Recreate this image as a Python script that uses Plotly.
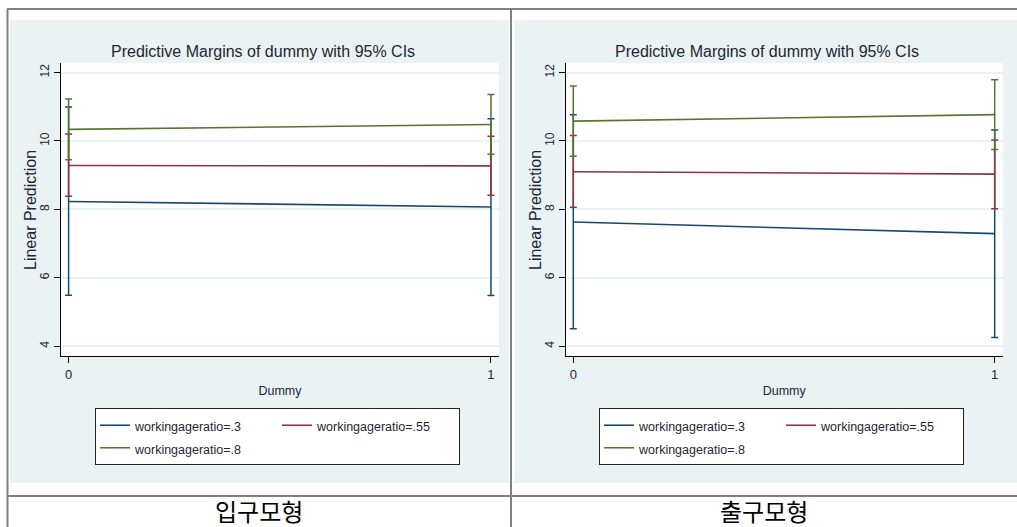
import plotly.graph_objects as go

# ---- data ----
dummy = [0, 1]
series_names = ["workingageratio=.3", "workingageratio=.55", "workingageratio=.8"]

# Left panel (입구모형)
left_est = [[8.23, 8.07], [9.28, 9.27], [10.34, 10.48]]
left_lo = [[5.49, 5.48], [8.38, 8.41], [9.45, 9.61]]
left_hi = [[10.99, 10.65], [10.20, 10.14], [11.23, 11.36]]

# Right panel (출구모형)
right_est = [[7.63, 7.29], [9.10, 9.03], [10.58, 10.77]]
right_lo = [[4.51, 4.25], [8.06, 8.02], [9.55, 9.75]]
right_hi = [[10.77, 10.32], [10.16, 10.03], [11.61, 11.79]]

panel_labels = ["입구모형", "출구모형"]
chart_title = "Predictive Margins of dummy with 95% CIs"
y_title = "Linear Prediction"
x_title = "Dummy"
y_ticks = [4, 6, 8, 10, 12]
x_ticks = [0, 1]

# ---- styles ----
colors = ["#1a476f", "#90353b", "#55752f"]
groups = ["a", "b", "a"]
W, H = 1017, 527
FONT = "Liberation Sans, Arial, sans-serif"
TXT = "#1f2533"
PANEL_BG = "#eaf2f3"


def px_x(p):
    return p / W


def px_y(p):
    return 1 - p / H


fig = go.Figure()

panels = [
    dict(est=left_est, lo=left_lo, hi=left_hi, xa="x", ya="y", legend="legend"),
    dict(est=right_est, lo=right_lo, hi=right_hi, xa="x2", ya="y2", legend="legend2"),
]

for pnl in panels:
    for i, name in enumerate(series_names):
        est = pnl["est"][i]
        up = [h - e for h, e in zip(pnl["hi"][i], est)]
        dn = [e - l for e, l in zip(est, pnl["lo"][i])]
        fig.add_trace(go.Scatter(
            x=dummy, y=est, mode="lines",
            name='<span style="font-size:12.5px">' + name + "</span>",
            line=dict(color=colors[i], width=1.6),
            error_y=dict(type="data", array=up, arrayminus=dn, visible=True,
                         color=colors[i], thickness=1.5, width=3.5),
            xaxis=pnl["xa"], yaxis=pnl["ya"], legend=pnl["legend"],
            legendgroup=groups[i] + pnl["legend"],
            hoverinfo="skip",
        ))

# axes
x_domains = [[px_x(61), px_x(499)], [px_x(565.7), px_x(1002.7)]]
y_domain = [px_y(356), px_y(63)]

axis_common_y = dict(
    range=[3.71, 12.28], tickvals=y_ticks, ticks="outside", ticklen=6,
    tickcolor="#000", tickwidth=1, tickangle=-90, showline=True,
    linecolor="#000", linewidth=1, showgrid=True, gridcolor=PANEL_BG,
    gridwidth=1.5, zeroline=False,
    tickfont=dict(family=FONT, size=12, color=TXT),
    domain=y_domain,
)
axis_common_x = dict(
    range=[-0.018, 1.019], tickvals=x_ticks, ticks="outside", ticklen=6,
    tickcolor="#000", tickwidth=1, showline=True, linecolor="#000",
    linewidth=1, showgrid=False, zeroline=False,
    tickfont=dict(family=FONT, size=13, color=TXT),
    title=dict(text=x_title, font=dict(family=FONT, size=12.5, color=TXT), standoff=5),
)

fig.update_layout(
    xaxis=dict(axis_common_x, domain=x_domains[0], anchor="y"),
    yaxis=dict(axis_common_y, anchor="x"),
    xaxis2=dict(axis_common_x, domain=x_domains[1], anchor="y2"),
    yaxis2=dict(axis_common_y, anchor="x2"),
)

legend_common = dict(
    orientation="h", traceorder="grouped", bgcolor="#ffffff",
    bordercolor="#222", borderwidth=1, xanchor="left", yanchor="top",
    font=dict(family=FONT, size=15, color=TXT),
    entrywidth=137, entrywidthmode="pixels",
    itemclick=False, itemdoubleclick=False,
)
fig.update_layout(
    legend=dict(legend_common, x=px_x(95), y=px_y(408)),
    legend2=dict(legend_common, x=px_x(599), y=px_y(408)),
)

shapes = []
# panel backgrounds
shapes.append(dict(type="rect", xref="paper", yref="paper", x0=px_x(10), x1=px_x(509),
                   y0=px_y(483), y1=px_y(20), fillcolor=PANEL_BG, line=dict(width=0), layer="below"))
shapes.append(dict(type="rect", xref="paper", yref="paper", x0=px_x(515), x1=1,
                   y0=px_y(483), y1=px_y(20), fillcolor=PANEL_BG, line=dict(width=0), layer="below"))
# white plot regions
for xa, ya in [("x", "y"), ("x2", "y2")]:
    shapes.append(dict(type="rect", xref=xa + " domain", yref=ya + " domain", x0=0, x1=1,
                       y0=0, y1=1, fillcolor="#ffffff", line=dict(width=0), layer="below"))
# table frame lines
frame = dict(color="#808080", width=2)
shapes.append(dict(type="line", xref="paper", yref="paper", x0=px_x(7), x1=1,
                   y0=px_y(9), y1=px_y(9), line=frame))
shapes.append(dict(type="line", xref="paper", yref="paper", x0=px_x(7), x1=1,
                   y0=px_y(496), y1=px_y(496), line=frame))
shapes.append(dict(type="line", xref="paper", yref="paper", x0=px_x(7.5), x1=px_x(7.5),
                   y0=0, y1=px_y(9), line=frame))
shapes.append(dict(type="line", xref="paper", yref="paper", x0=px_x(511), x1=px_x(511),
                   y0=0, y1=px_y(9), line=frame))

annotations = []
for cx in [px_x(263), px_x(767)]:
    annotations.append(dict(text=chart_title, x=cx, y=px_y(51), xref="paper", yref="paper",
                            showarrow=False, xanchor="center", yanchor="middle",
                            font=dict(family=FONT, size=16, color=TXT)))
for cx in [px_x(31), px_x(536)]:
    annotations.append(dict(text=y_title, x=cx, y=px_y(210), xref="paper", yref="paper",
                            showarrow=False, xanchor="center", yanchor="middle", textangle=-90,
                            font=dict(family=FONT, size=16, color=TXT)))
for cx, lab in zip([px_x(259), px_x(764)], panel_labels):
    annotations.append(dict(text=lab, x=cx, y=px_y(510), xref="paper", yref="paper",
                            showarrow=False, xanchor="center", yanchor="middle",
                            font=dict(family="Noto Sans CJK KR", size=24, color="#000")))

fig.update_layout(
    width=W, height=H, margin=dict(l=0, r=0, t=0, b=0),
    paper_bgcolor="#ffffff", plot_bgcolor="#ffffff",
    shapes=shapes, annotations=annotations, showlegend=True,
)

fig.write_html(
    "out.html",
    config={"displayModeBar": False},
    post_script="document.body.style.margin='0';document.body.style.overflow='hidden';",
)
